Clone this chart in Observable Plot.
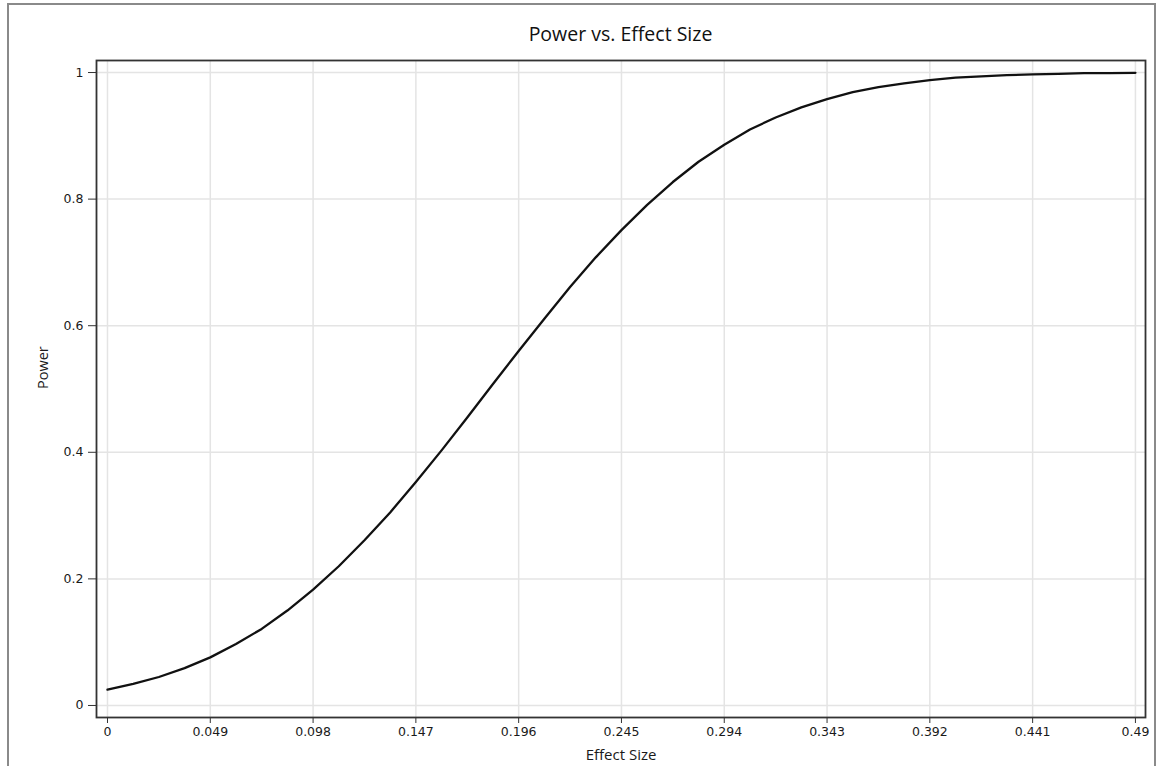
<!DOCTYPE html>
<html>
<head>
<meta charset="utf-8">
<script src="https://cdn.jsdelivr.net/npm/d3@7"></script>
<script src="https://cdn.jsdelivr.net/npm/@observablehq/plot@0.6"></script>
<style>
  html, body { margin: 0; padding: 0; background: #fff; }
  #wrap { position: relative; width: 1160px; height: 766px; overflow: hidden; background: #fff; }
  #border { position: absolute; left: 7px; top: 3px; width: 1149px; height: 800px; border: 2px solid #8a8a8a; box-sizing: border-box; }
  #title { position: absolute; left: 96px; width: 1049px; top: 20px; text-align: center; font-family: "Open Sans", sans-serif; font-size: 19.5px; line-height: 28px; color: #111; }
  #chart { position: absolute; left: 0; top: 50px; }
</style>
</head>
<body>
<div id="wrap">
  <div id="border"></div>
  <div id="title">Power vs. Effect Size</div>
  <div id="chart"></div>
</div>
<script>
const effectSize = [0, 0.01225, 0.0245, 0.03675, 0.049, 0.06125, 0.0735, 0.08575, 0.098, 0.11025,
  0.1225, 0.13475, 0.147, 0.15925, 0.1715, 0.18375, 0.196, 0.20825, 0.2205, 0.23275,
  0.245, 0.25725, 0.2695, 0.28175, 0.294, 0.30625, 0.3185, 0.33075, 0.343, 0.35525,
  0.3675, 0.37975, 0.392, 0.40425, 0.4165, 0.42875, 0.441, 0.45325, 0.4655, 0.47775, 0.49];
const power = [0.025, 0.034, 0.045, 0.059, 0.076, 0.097, 0.121, 0.150, 0.183, 0.220,
  0.261, 0.305, 0.353, 0.403, 0.455, 0.508, 0.560, 0.611, 0.661, 0.708,
  0.751, 0.791, 0.827, 0.859, 0.886, 0.910, 0.929, 0.945, 0.958, 0.969,
  0.977, 0.983, 0.988, 0.992, 0.994, 0.996, 0.997, 0.998, 0.999, 0.999, 0.9995];
const xTicks = [0, 0.049, 0.098, 0.147, 0.196, 0.245, 0.294, 0.343, 0.392, 0.441, 0.49];
const xTickLabels = ["0", "0.049", "0.098", "0.147", "0.196", "0.245", "0.294", "0.343", "0.392", "0.441", "0.49"];
const yTicks = [0, 0.2, 0.4, 0.6, 0.8, 1];
const yTickLabels = ["0", "0.2", "0.4", "0.6", "0.8", "1"];

const data = effectSize.map((e, i) => ({effect: e, power: power[i]}));
const xLab = new Map(xTicks.map((t, i) => [t, xTickLabels[i]]));
const yLab = new Map(yTicks.map((t, i) => [t, yTickLabels[i]]));

const chart = Plot.plot({
  width: 1160,
  height: 716,
  marginTop: 10,
  marginLeft: 96,
  marginRight: 15,
  marginBottom: 49,
  style: {fontFamily: "DejaVu Sans, sans-serif", fontSize: "12.5px", color: "#1a1a1a", background: "transparent"},
  x: {domain: [-0.00524, 0.4948], label: null},
  y: {domain: [-0.019, 1.019], label: null},
  marks: [
    Plot.gridX(xTicks, {stroke: "#e4e4e4", strokeOpacity: 1, strokeWidth: 1.5}),
    Plot.gridY(yTicks, {stroke: "#e4e4e4", strokeOpacity: 1, strokeWidth: 1.5}),
    Plot.axisX({ticks: xTicks, tickFormat: d => xLab.get(d), tickSize: 6, tickPadding: 4, stroke: "#333", fill: "#1a1a1a", fontSize: 12.5, label: null}),
    Plot.axisY({ticks: yTicks, tickFormat: d => yLab.get(d), tickSize: 8, tickPadding: 5, stroke: "#333", fill: "#1a1a1a", fontSize: 12.5, label: null}),
    Plot.line(data, {x: "effect", y: "power", stroke: "#111", strokeWidth: 2.3}),
    Plot.frame({stroke: "#333", strokeWidth: 1.8}),
    Plot.text(["Effect Size"], {frameAnchor: "bottom", dy: 38, lineAnchor: "middle", fontFamily: "Open Sans, sans-serif", fontSize: 15, fill: "#1a1a1a"}),
    Plot.text(["Power"], {frameAnchor: "left", dx: -53, rotate: -90, fontFamily: "Open Sans, sans-serif", fontSize: 14.5, fill: "#1a1a1a"})
  ]
});
document.getElementById("chart").appendChild(chart);
</script>
</body>
</html>
